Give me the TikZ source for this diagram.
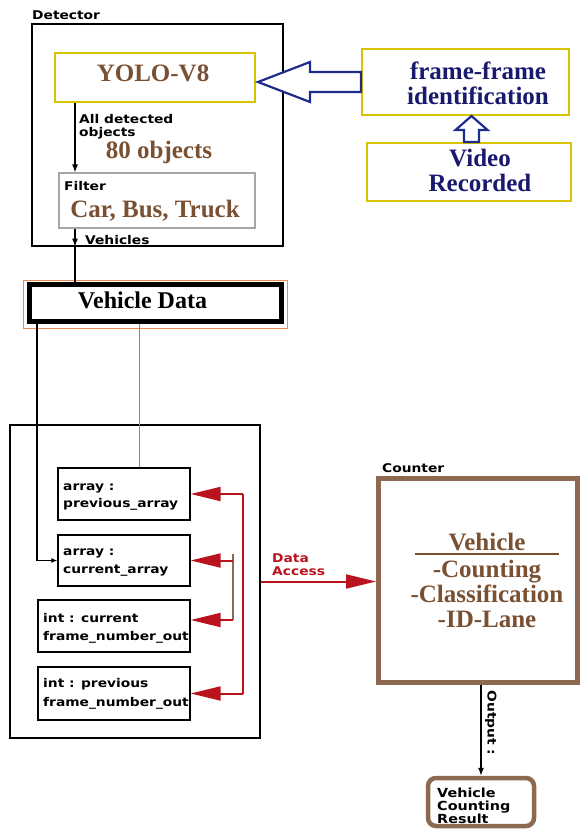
\documentclass[tikz,border=0pt]{standalone}
\usepackage{fontspec}
\setmainfont{Liberation Serif}
\newfontfamily\lblfont[FakeStretch=1.15]{DejaVu Sans}
\usepackage{xcolor}
\usepackage{tikz}
\usetikzlibrary{arrows.meta, positioning, calc}

\definecolor{ylw}{RGB}{215,195,0}
\definecolor{txtbrown}{RGB}{122,80,50}
\definecolor{navy}{RGB}{25,25,110}
\definecolor{arrblue}{RGB}{30,45,140}
\definecolor{cbrown}{RGB}{140,105,80}
\definecolor{dred}{RGB}{185,20,30}
\definecolor{orng}{RGB}{230,140,85}
\definecolor{lbrown}{RGB}{170,125,95}

\begin{document}
\begin{tikzpicture}[
    x=1pt, y=-1pt,
    box/.style={draw, line width=1.3pt, inner sep=0pt},
    ylwbox/.style={draw=ylw, line width=2pt, inner sep=0pt},
    serif/.style={font=\fontsize{25}{25}\selectfont\bfseries, inner sep=0pt},
    lbl/.style={font=\lblfont\bfseries\fontsize{12}{13}\selectfont, inner sep=0pt},
    blk/.style={line width=1.2pt, -{Latex[length=8pt, width=6pt]}},
    redln/.style={draw=dred, line width=2pt},
    redarr/.style={redln, -{Triangle[length=30pt, width=14pt]}},
    hollow/.style={draw=arrblue, line width=2.2pt, fill=white, line join=miter},
  ]
  \useasboundingbox (0,0) rectangle (581,829);

  % Detector
  \node[box, line width=1.2pt, minimum width=251, minimum height=222] (detector) at (157.5,135) {};
  \node[lbl, anchor=base west] (detlbl) at (32,20) {Detector};
  \node[ylwbox, minimum width=200, minimum height=49] (yolo) at (155,77.5) {};
  \node[serif, text=txtbrown, anchor=base] (yolotxt) at (153,82) {YOLO-V8};
  \node[box, draw=gray!70, line width=1.2pt, minimum width=196, minimum height=55] (filter) at (157,200.5) {};
  \node[lbl, anchor=base west] (filtlbl) at (64,190) {Filter};
  \node[serif, text=txtbrown, anchor=base] (cartxt) at (155,217) {Car, Bus, Truck};
  \node[lbl, anchor=base west, align=left] (alltxt) at (79,137) {All detected\\objects};
  \node[serif, text=txtbrown, anchor=base] (objtxt) at (159,159) {80 objects};
  \node[lbl, anchor=base west] (vehlbl) at (85,244) {Vehicles};

  \coordinate (a1) at ([xshift=21pt]yolo.south west);
  \draw[blk] (a1) -- (a1 |- filter.north);
  \draw[blk] (a1 |- filter.south) -- (a1 |- detector.south);

  % frame source
  \node[ylwbox, minimum width=207, minimum height=66] (frame) at (465.5,82) {};
  \node[serif, text=navy, anchor=base, align=center] (frametxt) at (478,105) {frame-frame\\identification};
  \node[ylwbox, minimum width=204, minimum height=58] (video) at (469,172) {};
  \node[serif, text=navy, anchor=base, align=center] (videotxt) at (480,192) {Video\\Recorded};

  \coordinate (tipA) at ([xshift=2pt]yolo.east |- frame.west);
  \draw[hollow] (tipA) -- ++(52,-20) -- ++(0,10) -- ([yshift=10pt]frame.west)
    -- ([yshift=-10pt]frame.west) -- ([xshift=52pt,yshift=-10pt]tipA) -- ++(0,10) -- cycle;
  \coordinate (tipB) at ([xshift=6pt]frame.south);
  \coordinate (tailB) at (tipB |- video.north);
  \draw[hollow] (tipB) -- ++(-16,14) -- ++(8.5,0) -- ([xshift=-7.5pt]tailB)
    -- ([xshift=7.5pt]tailB) -- ([xshift=7.5pt,yshift=-14pt]tipB) -- ++(8.5,0) -- cycle;

  % Vehicle Data
  \node[draw=orng, line width=0.8pt, minimum width=264, minimum height=48] (vdata) at (155,304) {};
  \node[draw, line width=5pt, minimum width=252, minimum height=37] (vdatain) at (155.5,303) {};
  \node[serif, font=\fontsize{24}{24}\selectfont\bfseries, anchor=base] (vdatatxt) at (142.5,308) {Vehicle Data};
  \draw[line width=1.2pt] (a1 |- detector.south) -- (a1 |- vdatain.north);

  % storage
  \node[box, line width=1.5pt, minimum width=250, minimum height=313] (lower) at (135,581.5) {};
  \node[box, minimum width=132, minimum height=52] (prev) at (124,494) {};
  \node[lbl, anchor=base west, align=left, font=\lblfont\bfseries\fontsize{12}{17}\selectfont] (prevtxt) at (63,507) {array :\\previous\_array};
  \node[box, minimum width=132, minimum height=51] (curr) at (124,560.5) {};
  \node[lbl, anchor=base west, align=left, font=\lblfont\bfseries\fontsize{12}{18}\selectfont] (currtxt) at (63,573) {array :\\current\_array};
  \node[box, minimum width=152, minimum height=52] (intcur) at (114,626) {};
  \node[lbl, anchor=base west, align=left, font=\lblfont\bfseries\fontsize{12}{18}\selectfont] (intcurtxt) at (43,640) {int : current\\frame\_number\_out};
  \node[box, minimum width=152, minimum height=53] (intprev) at (114,693.5) {};
  \node[lbl, anchor=base west, align=left, font=\lblfont\bfseries\fontsize{12}{19}\selectfont] (intprevtxt) at (43,706) {int : previous\\frame\_number\_out};

  \draw[blk, -{Latex[length=6pt, width=5pt]}] ([xshift=10pt]vdatain.south west) |- (curr.west);
  \coordinate (bl) at ([xshift=15pt]prev.north);
  \draw[lbrown, line width=1pt] (bl) -- (bl |- vdatain.south);

  % data access arrows
  \coordinate (bus) at (243,0);
  \coordinate (bkt) at (233,0);
  \draw[redln] (prev.east -| bus) -- (intprev.east -| bus);
  \draw[redarr] (prev.east -| bus) -- (prev.east);
  \draw[redarr] (intprev.east -| bus) -- (intprev.east);
  \draw[cbrown, line width=2pt] ([yshift=7pt]curr.east -| bkt) -- ([yshift=6pt]intcur.east -| bkt);
  \draw[redarr] (curr.east -| bkt) -- (curr.east);
  \draw[redarr] ([yshift=6pt]intcur.east -| bkt) -- ([yshift=6pt]intcur.east);

  % Counter
  \node[draw=cbrown, line width=5pt, minimum width=199, minimum height=204] (counter) at (478,580) {};
  \node[lbl, anchor=base west] (cntlbl) at (382,472) {Counter};
  \draw[redarr] (lower.east) -- (lower.east -| counter.west);
  \node[lbl, text=dred, anchor=base west, align=left] (datalbl) at (272,575) {Data\\Access};
  \node[serif, text=txtbrown, anchor=base] (vtitle) at (487,550) {Vehicle};
  \draw[txtbrown, line width=1.2pt] ([xshift=-72pt,yshift=-4pt]vtitle.base) -- ([xshift=72pt,yshift=-4pt]vtitle.base);
  \node[serif, text=txtbrown, anchor=base, align=center] (vlist) at (487,627) {-Counting\\-Classification\\-ID-Lane};

  % result
  \node[draw=cbrown, line width=4.5pt, rounded corners=8pt, minimum width=106, minimum height=48] (result) at (481,802) {};
  \node[lbl, anchor=base west, align=left, font=\lblfont\bfseries\fontsize{12.5}{13}\selectfont] (restxt) at (437,823) {Vehicle\\Counting\\Result};
  \draw[blk] (counter.south -| result.north) -- (result.north);
  \node[lbl, font=\lblfont\bfseries\fontsize{12}{12}\selectfont, rotate=-90, anchor=south west] (outlbl) at ([xshift=4pt,yshift=-6pt]counter.south -| result.north) {Output :};
\end{tikzpicture}
\end{document}
